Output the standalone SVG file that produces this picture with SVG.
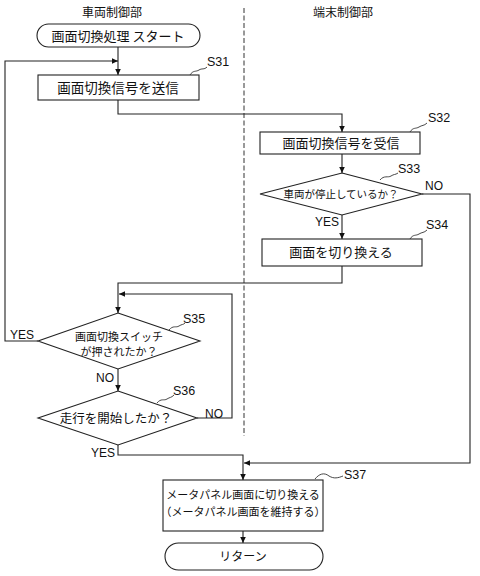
<svg xmlns="http://www.w3.org/2000/svg" width="480" height="576" viewBox="0 0 480 576">
<defs>
<marker id="ah" markerWidth="8" markerHeight="8" refX="7" refY="4" orient="auto" markerUnits="userSpaceOnUse">
<path d="M1,1.2 L7,4 L1,6.8 Z" fill="#111"/>
</marker>
</defs>
<style>
.t{font-family:"Noto Sans CJK JP","Noto Sans",sans-serif;fill:#111;text-anchor:middle}
.l{font-family:"Liberation Sans",Arial,sans-serif;fill:#111;font-size:12px}
.n{font-family:"Liberation Sans",Arial,sans-serif;fill:#111;font-size:12.5px}
.s{fill:#fff;stroke:#222;stroke-width:1.1}
.c{fill:none;stroke:#222;stroke-width:1.1}
.q{fill:none;stroke:#333;stroke-width:0.9}
</style>
<rect width="480" height="576" fill="#fff"/>
<text class="t" x="112" y="17" font-size="12">車両制御部</text>
<text class="t" x="343" y="17" font-size="12">端末制御部</text>
<line x1="244" y1="8" x2="244" y2="436" stroke="#333" stroke-width="1" stroke-dasharray="5 2.5"/>

<g id="connectors">
<path class="c" d="M118,47 V75" marker-end="url(#ah)"/>
<path class="c" d="M38,341 H5 V61 H118" marker-end="url(#ah)"/>
<path class="c" d="M118,100 V114 H342 V132" marker-end="url(#ah)"/>
<path class="c" d="M342,154 V173" marker-end="url(#ah)"/>
<path class="c" d="M342,215 V239" marker-end="url(#ah)"/>
<path class="c" d="M422,194 H470 V463 H244" marker-end="url(#ah)"/>
<path class="c" d="M342,266 V283 H118 V313" marker-end="url(#ah)"/>
<path class="c" d="M197,418 H232 V294 H119" marker-end="url(#ah)"/>
<path class="c" d="M118,369 V391" marker-end="url(#ah)"/>
<path class="c" d="M118,445 V455 H243 V480" marker-end="url(#ah)"/>
<path class="c" d="M243,531 V543" marker-end="url(#ah)"/>
<text class="l" x="425" y="190">NO</text>
<text class="l" x="315" y="226">YES</text>
<text class="l" x="10" y="339">YES</text>
<text class="l" x="96" y="382">NO</text>
<text class="l" x="205" y="418">NO</text>
<text class="l" x="91" y="457">YES</text>
</g>

<g id="start">
<rect class="s" x="37" y="24" width="163" height="23" rx="11.5"/>
<text class="t" x="118" y="40.5" font-size="13">画面切換処理 スタート</text>
</g>
<g id="S31">
<rect class="s" x="38" y="75" width="161" height="25"/>
<text class="t" x="118" y="92.5" font-size="13.5">画面切換信号を送信</text>
<path class="q" d="M190,75 C193,70 196,72 199,70 C202,68 204,70 207,67"/>
<text class="n" x="207" y="66">S31</text>
</g>
<g id="S32">
<rect class="s" x="260" y="132" width="160" height="22"/>
<text class="t" x="341" y="148" font-size="13">画面切換信号を受信</text>
<path class="q" d="M410,132 C413,127 416,129 419,127 C422,125 424,126 427,123"/>
<text class="n" x="428" y="122">S32</text>
</g>
<g id="S33">
<polygon class="s" points="342,173 422,194 342,215 260,194"/>
<text class="t" x="341" y="198" font-size="10.5">車両が停止しているか？</text>
<path class="q" d="M380,180 C384,175 388,178 391,176 C394,174 395,175 398,173"/>
<text class="n" x="398" y="173">S33</text>
</g>
<g id="S34">
<rect class="s" x="262" y="239" width="160" height="27"/>
<text class="t" x="341" y="257" font-size="13">画面を切り換える</text>
<path class="q" d="M410,239 C413,234 416,236 419,234 C422,232 424,233 427,230"/>
<text class="n" x="426" y="229">S34</text>
</g>
<g id="S35">
<polygon class="s" points="118,313 200,341 118,369 38,341"/>
<text class="t" x="119" y="341" font-size="11">画面切換スイッチ</text>
<text class="t" x="119" y="356" font-size="11">が押されたか？</text>
<path class="q" d="M169,330 C173,325 176,328 179,326 C182,324 183,325 185,323"/>
<text class="n" x="183" y="323">S35</text>
</g>
<g id="S36">
<polygon class="s" points="118,391 197,418 118,445 38,418"/>
<text class="t" x="116" y="422.5" font-size="12.5">走行を開始したか？</text>
<path class="q" d="M157,403 C161,398 164,401 167,399 C170,397 171,398 174,395"/>
<text class="n" x="173" y="395">S36</text>
</g>
<g id="S37">
<rect class="s" x="163" y="480" width="160" height="51"/>
<text class="t" x="243" y="499" font-size="11">メータパネル画面に切り換える</text>
<text class="t" x="243" y="516" font-size="11">（メータパネル画面を維持する）</text>
<path class="q" d="M315,479 C319,474 324,472 329,476 C334,479 338,478 343,476"/>
<text class="n" x="344" y="479">S37</text>
</g>
<g id="return">
<rect class="s" x="165" y="543" width="158" height="27" rx="13.5"/>
<text class="t" x="243" y="561" font-size="12">リターン</text>
</g>
</svg>
